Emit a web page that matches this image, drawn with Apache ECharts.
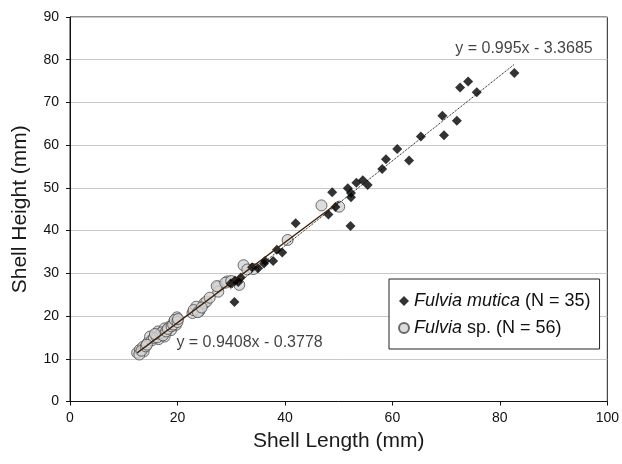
<!DOCTYPE html>
<html>
<head>
<meta charset="utf-8">
<script src="https://cdn.jsdelivr.net/npm/echarts@6/dist/echarts.min.js"></script>
<style>html,body{margin:0;padding:0;background:#fff}#c{width:622px;height:464px}</style>
</head>
<body>
<div id="c"></div>
<script>
// Fulvia mutica (N = 35): [length, height]
var muticaData = [
  [82.7,76.9],[74.1,74.9],[72.6,73.5],[75.7,72.4],[69.3,66.9],[72.0,65.7],[69.6,62.3],
  [65.3,62.0],[60.9,59.1],[63.1,56.4],[58.8,56.7],[58.1,54.4],[54.5,51.8],[53.3,51.2],
  [55.4,50.7],[51.7,49.9],[52.3,48.8],[52.3,47.8],[48.8,49.0],[49.4,45.5],[48.1,43.8],
  [52.2,41.1],[42.0,41.7],[38.5,35.5],[39.5,34.9],[36.3,32.9],[37.8,32.9],[33.9,31.4],
  [30.7,28.3],[30.6,23.3],[31.3,28.0],[36.1,32.3],[29.9,27.6],[35.0,31.2],[31.8,29.0]
];
// Fulvia sp. (N = 56): [length, height]
var spData = [
  [12.5,11.4],[13.0,12.1],[13.6,12.8],[13.7,11.7],[14.5,13.8],[14.9,15.2],[16.0,15.6],
  [16.4,16.4],[16.5,14.6],[17.6,15.2],[17.6,17.1],[18.5,17.5],[18.8,16.7],[19.4,18.7],
  [19.9,19.7],[19.7,17.9],[22.8,20.7],[23.5,22.2],[24.1,21.2],[25.0,23.0],[25.4,23.4],
  [27.6,26.9],[27.6,25.7],[29.3,28.1],[31.5,27.3],[32.3,31.9],[34.1,31.0],[40.5,37.8],
  [46.8,45.9],[50.1,45.6],[27.3,27.0],[12.9,11.0],[13.3,11.9],[14.1,12.9],[15.2,14.3],
  [15.6,14.9],[16.2,15.0],[16.8,15.9],[17.1,16.2],[17.3,15.5],[17.9,16.4],[18.2,17.0],
  [18.9,17.6],[19.2,18.0],[19.5,19.1],[20.0,18.6],[15.8,15.8],[14.3,13.3],[23.0,21.4],
  [23.8,20.9],[24.5,22.0],[26.0,24.3],[28.9,27.8],[30.0,28.2],[33.0,30.9],[20.1,19.3]
];
// Trend line coefficients [slope, intercept]
var muticaFit = [0.995, -3.3685];
var spFit = [0.9408, -0.3778];
// Equation label anchor points (data coords, left edge / vertical middle)
var muticaLabelAt = [71.7, 82.6];
var spLabelAt = [19.8, 13.8];
var xTicks = [0, 20, 40, 60, 80, 100];
var yTicks = [0, 10, 20, 30, 40, 50, 60, 70, 80, 90];

var FONT = '"Liberation Sans", Arial, sans-serif';

function fitLine(data, fit) {
  var xs = data.map(function(d){return d[0];});
  var lo = Math.min.apply(null, xs), hi = Math.max.apply(null, xs);
  return [[lo, fit[0]*lo + fit[1]], [hi, fit[0]*hi + fit[1]]];
}
function eqText(fit) {
  var b = fit[1];
  return 'y = ' + fit[0] + 'x ' + (b < 0 ? '- ' : '+ ') + Math.abs(b);
}

var chart = echarts.init(document.getElementById('c'), null, {renderer: 'canvas'});
chart.setOption({
  animation: false,
  backgroundColor: '#fff',
  grid: {left: 70, right: 12, top: 17, bottom: 62.5, show: true, borderColor: '#222', borderWidth: 1, backgroundColor: 'transparent'},
  xAxis: {
    type: 'value', min: xTicks[0], max: xTicks[xTicks.length-1], interval: 20,
    name: 'Shell Length (mm)', nameLocation: 'middle', nameGap: 29,
    nameTextStyle: {fontFamily: FONT, fontSize: 21, color: '#1a1a1a'},
    axisLine: {lineStyle: {color: '#111', width: 1}},
    axisTick: {show: true, length: 4, lineStyle: {color: '#111'}},
    axisLabel: {fontFamily: FONT, fontSize: 14, color: '#111', margin: 10},
    splitLine: {show: false}
  },
  yAxis: {
    type: 'value', min: yTicks[0], max: yTicks[yTicks.length-1], interval: 10,
    name: 'Shell Height (mm)', nameLocation: 'middle', nameGap: 39,
    nameTextStyle: {fontFamily: FONT, fontSize: 21, color: '#1a1a1a'},
    axisLine: {show: true, lineStyle: {color: '#111', width: 1}},
    axisTick: {show: true, length: 4, lineStyle: {color: '#111'}},
    axisLabel: {fontFamily: FONT, fontSize: 14, color: '#111', margin: 11},
    splitLine: {show: true, lineStyle: {color: '#c8c8c8', width: 1}}
  },
  legend: {
    data: ['Fulvia mutica', 'Fulvia sp.'],
    orient: 'vertical', left: 389, top: 279,
    backgroundColor: '#fff', borderColor: '#222', borderWidth: 1,
    padding: [13, 9, 12, 9], itemGap: 9, itemWidth: 10, itemHeight: 10,
    textStyle: {fontFamily: FONT, fontSize: 18, color: '#111',
      rich: {i: {fontFamily: FONT, fontSize: 18, fontStyle: 'italic', color: '#111'},
             n: {fontFamily: FONT, fontSize: 18, color: '#111'}}},
    formatter: function(name) {
      if (name === 'Fulvia mutica') return '{i|Fulvia mutica}{n| (N = ' + muticaData.length + ')}';
      return '{i|Fulvia}{n| sp. (N = ' + spData.length + ')}';
    }
  },
  series: [
    {name: 'Fulvia sp.', type: 'scatter', data: spData, symbol: 'circle', symbolSize: 11,
     itemStyle: {color: '#d3d3d3', borderColor: '#4a4a4a', borderWidth: 1}, z: 2},
    {name: 'Fulvia mutica', type: 'scatter', data: muticaData, symbol: 'diamond', symbolSize: 10,
     itemStyle: {color: '#000'}, z: 3},
    {name: 'spFit', type: 'line', data: fitLine(spData, spFit), symbol: 'none',
     lineStyle: {color: '#3f1e0c', width: 1.3, type: 'solid'}, z: 4, silent: true},
    {name: 'muticaFit', type: 'line', data: fitLine(muticaData, muticaFit), symbol: 'none',
     lineStyle: {color: '#000', width: 1, type: 'dotted'}, z: 4, silent: true},
    {name: 'labels', type: 'scatter', symbolSize: 0, silent: true, z: 5,
     data: [
       {value: muticaLabelAt, label: {formatter: eqText(muticaFit)}},
       {value: spLabelAt, label: {formatter: eqText(spFit)}}
     ],
     label: {show: true, position: 'right', distance: 0, fontFamily: FONT, fontSize: 16, color: '#111'}}
  ]
});
</script>
</body>
</html>
